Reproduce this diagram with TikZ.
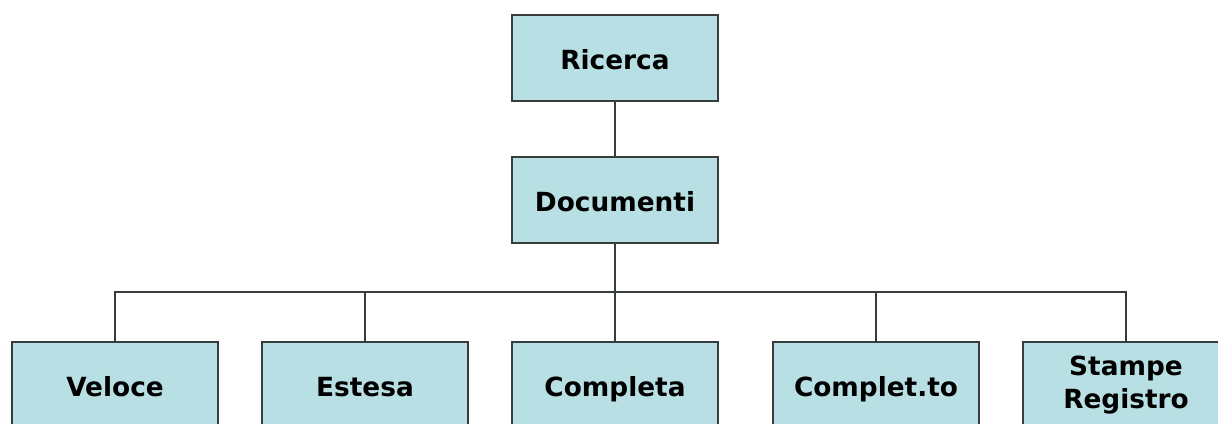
\documentclass[tikz,border=0pt]{standalone}
\usepackage{fontspec}
\setmainfont{DejaVu Sans}
\usetikzlibrary{positioning}
\definecolor{boxfill}{RGB}{184,223,227}
\definecolor{boxline}{RGB}{55,60,60}
\tikzset{
  box/.style={draw=boxline, fill=boxfill, line width=1.1pt, % the light blue boxes
    minimum width=4.12cm, minimum height=1.72cm, align=center,
    text height=13pt, text depth=0pt,
    font=\bfseries\fontsize{15}{18}\selectfont},
  twoline/.style={text height={}, text depth={}}, % box with two lines of text
  link/.style={draw=boxline, line width=1.1pt}, % the plain connectors
}
\begin{document}
\begin{tikzpicture}[x=0.02cm, y=-0.02cm]
    \useasboundingbox (0,0) rectangle (1218,423);
    \node[box] (ricerca) at (615,58) {Ricerca};
    \node[box] (documenti) at (615,200) {Documenti};
    \coordinate (bus) at (615,292);

    \node[box] (veloce) at (115,385) {Veloce};
    \node[box] (estesa) at (365,385) {Estesa};
    \node[box] (completa) at (615,385) {Completa};
    \node[box] (completto) at (876,385) {Complet.to};
    \node[box, twoline] (stampe) at (1126,385) {Stampe\\[1pt]Registro};

    \draw[link]
    (ricerca) -- (documenti)
    (documenti) -- (bus)
    (bus) -| (veloce)
    (bus) -| (estesa)
    (bus) -- (completa)
    (bus) -| (completto)
    (bus) -| (stampe)
    ;
  \end{tikzpicture}
\end{document}
